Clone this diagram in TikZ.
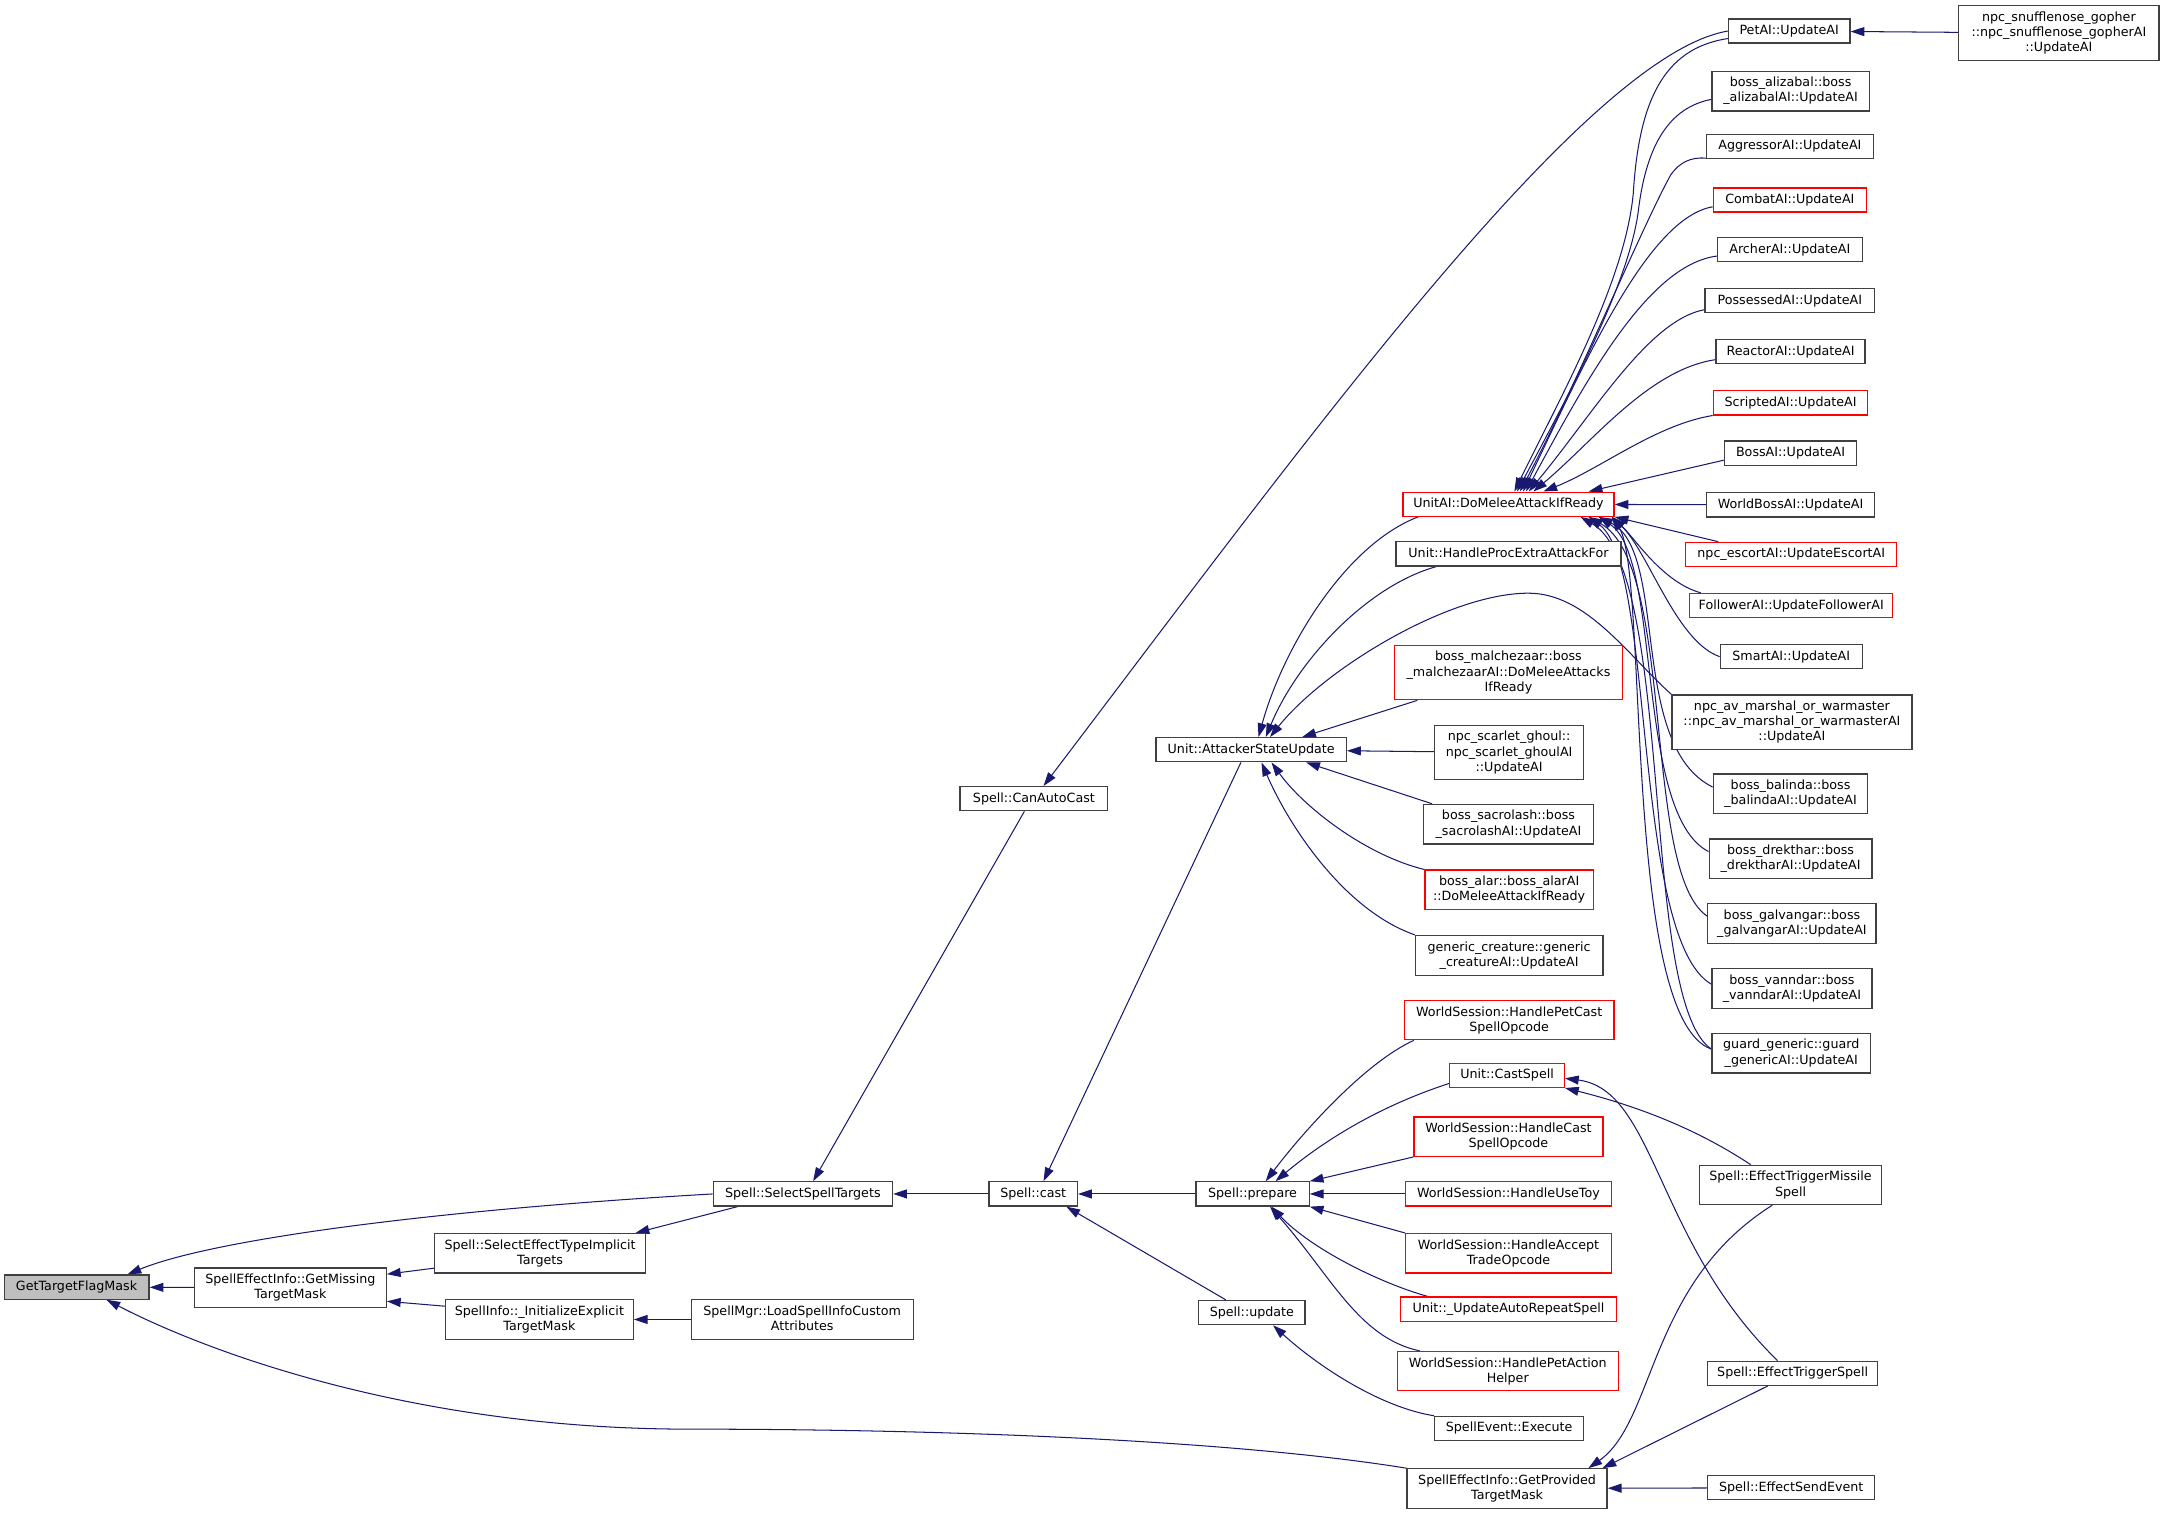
\documentclass[tikz,border=0pt]{standalone}
\usepackage{fontspec}
\setmainfont{DejaVu Sans}
\usepackage{xcolor}
\usetikzlibrary{arrows.meta}
\pgfdeclarelayer{background}
\pgfsetlayers{background,main}
\definecolor{edgeblue}{HTML}{191970}

\begin{document}
\begin{tikzpicture}[x=1pt,y=-1pt]
	\tikzset{fn/.style={draw=black!75, rectangle, fill=white, line width=0.9pt, inner xsep=2pt, inner ysep=4.3pt, minimum height=17.5pt, align=center, font=\fontsize{9.2}{11}\selectfont, execute at begin node={\vphantom{lg}}}}
	\tikzset{fnred/.style={fn, draw=red}}
	\tikzset{fnroot/.style={fn, fill=gray!50}}
	\tikzset{call/.style={draw=edgeblue, line width=0.75pt, {Triangle[length=10pt,width=6.5pt]}-}}
	\useasboundingbox (0,0) rectangle (1568,1098);
	% left part
	\node[fnroot, minimum width=105] at (55.5,933) (Root){GetTargetFlagMask};
	\node[fn, minimum width=139] at (210.5,933.5) (Missing){SpellEffectInfo::GetMissing\\TargetMask};
	\node[fn, minimum width=153] at (391.5,908.5) (Implicit){Spell::SelectEffectTypeImplicit\\Targets};
	\node[fn, minimum width=136] at (391,956.5) (Explicit){SpellInfo::\_InitializeExplicit\\TargetMask};
	\node[fn, minimum width=161] at (581.5,956.5) (LoadCustom){SpellMgr::LoadSpellInfoCustom\\Attributes};
	\node[fn, minimum width=130] at (582,865.5) (SelectTargets){Spell::SelectSpellTargets};
	\node[fn, minimum width=107] at (749.5,579) (CanAutoCast){Spell::CanAutoCast};
	\node[fn, minimum width=64] at (749,865.5) (Cast){Spell::cast};
	\node[fn, minimum width=82] at (908,865.5) (Prepare){Spell::prepare};
	\node[fn, minimum width=77] at (907.5,951.5) (Update){Spell::update};
	\node[fn, minimum width=138] at (907,543.5) (Attacker){Unit::AttackerStateUpdate};
	% middle column
	\node[fnred, minimum width=153] at (1093.5,365.5) (UnitAI){UnitAI::DoMeleeAttackIfReady};
	\node[fn, minimum width=163] at (1093.5,401.5) (ProcExtra){Unit::HandleProcExtraAttackFor};
	\node[fnred, minimum width=165] at (1093.5,487.5) (Malchezaar){boss\_malchezaar::boss\\\_malchezaarAI::DoMeleeAttacks\\IfReady};
	\node[fn, minimum width=108] at (1094,545.5) (ScarletGhoul){npc\_scarlet\_ghoul::\\npc\_scarlet\_ghoulAI\\::UpdateAI};
	\node[fn, minimum width=123] at (1093.5,597.5) (Sacrolash){boss\_sacrolash::boss\\\_sacrolashAI::UpdateAI};
	\node[fnred, minimum width=122] at (1094,645) (Alar){boss\_alar::boss\_alarAI\\::DoMeleeAttackIfReady};
	\node[fn, minimum width=136] at (1094,692.5) (Generic){generic\_creature::generic\\\_creatureAI::UpdateAI};
	\node[fnred, minimum width=152] at (1094,739.5) (PetCast){WorldSession::HandlePetCast\\SpellOpcode};
	\node[fnred, minimum width=83] at (1092.5,779.5) (CastSpell){Unit::CastSpell};
	\node[fnred, minimum width=137] at (1093.5,824) (HandleCast){WorldSession::HandleCast\\SpellOpcode};
	\node[fnred, minimum width=149] at (1093.5,865.5) (UseToy){WorldSession::HandleUseToy};
	\node[fnred, minimum width=149] at (1093.5,908.5) (AcceptTrade){WorldSession::HandleAccept\\TradeOpcode};
	\node[fnred, minimum width=157] at (1093.5,949) (AutoRepeat){Unit::\_UpdateAutoRepeatSpell};
	\node[fnred, minimum width=160] at (1093,994) (PetAction){WorldSession::HandlePetAction\\Helper};
	\node[fn, minimum width=108] at (1094,1035.5) (SpellEvent){SpellEvent::Execute};
	\node[fn, minimum width=145] at (1092.5,1079) (Provided){SpellEffectInfo::GetProvided\\TargetMask};
	% right column
	\node[fn, minimum width=88] at (1297,22.5) (PetAI){PetAI::UpdateAI};
	\node[fn, minimum width=145] at (1492.5,24) (Gopher){npc\_snufflenose\_gopher\\::npc\_snufflenose\_gopherAI\\::UpdateAI};
	\node[fn, minimum width=114] at (1298,66) (Alizabal){boss\_alizabal::boss\\\_alizabalAI::UpdateAI};
	\node[fn, minimum width=121] at (1297.5,106) (Aggressor){AggressorAI::UpdateAI};
	\node[fnred, minimum width=111] at (1297.5,145) (Combat){CombatAI::UpdateAI};
	\node[fn, minimum width=105] at (1297.5,181) (Archer){ArcherAI::UpdateAI};
	\node[fn, minimum width=123] at (1297.5,218) (Possessed){PossessedAI::UpdateAI};
	\node[fn, minimum width=108] at (1298,255) (Reactor){ReactorAI::UpdateAI};
	\node[fnred, minimum width=112] at (1298,292) (Scripted){ScriptedAI::UpdateAI};
	\node[fn, minimum width=96] at (1298,328.5) (BossAI){BossAI::UpdateAI};
	\node[fn, minimum width=122] at (1298,366) (WorldBoss){WorldBossAI::UpdateAI};
	\node[fnred, minimum width=153] at (1298.5,402) (Escort){npc\_escortAI::UpdateEscortAI};
	\node[fnred, minimum width=147] at (1298.5,439) (Follower){FollowerAI::UpdateFollowerAI};
	\node[fn, minimum width=103] at (1298.5,476) (Smart){SmartAI::UpdateAI};
	\node[fn, minimum width=174] at (1299,523.5) (Marshal){npc\_av\_marshal\_or\_warmaster\\::npc\_av\_marshal\_or\_warmasterAI\\::UpdateAI};
	\node[fn, minimum width=112] at (1298,575.5) (Balinda){boss\_balinda::boss\\\_balindaAI::UpdateAI};
	\node[fn, minimum width=118] at (1298,622.5) (Drekthar){boss\_drekthar::boss\\\_drektharAI::UpdateAI};
	\node[fn, minimum width=122] at (1299,669.5) (Galvangar){boss\_galvangar::boss\\\_galvangarAI::UpdateAI};
	\node[fn, minimum width=116] at (1299,716.5) (Vanndar){boss\_vanndar::boss\\\_vanndarAI::UpdateAI};
	\node[fn, minimum width=115] at (1298.5,763.5) (Guard){guard\_generic::guard\\\_genericAI::UpdateAI};
	\node[fn, minimum width=132] at (1298,859) (MissileSpell){Spell::EffectTriggerMissile\\Spell};
	\node[fn, minimum width=123] at (1299.5,995.5) (TriggerSpell){Spell::EffectTriggerSpell};
	\node[fn, minimum width=121] at (1298.5,1078.5) (SendEvent){Spell::EffectSendEvent};
	\begin{pgfonlayer}{background}
	% callers of GetTargetFlagMask and of the mask helpers
	\draw[call] (Root) -- (Missing);
	\draw[call] (Root.14) .. controls (150,900) and (300,878) .. (SelectTargets.west);
	\draw[call] (Root.-23) .. controls (150,980) and (300,1036) .. (500,1036) .. controls (700,1036) and (900,1045) .. (Provided.north west);
	\draw[call] (Missing.8) -- (Implicit.188);
	\draw[call] (Missing.-8) -- (Explicit.172);
	\draw[call] (Explicit) -- (LoadCustom);
	\draw[call] (Implicit.12) -- (SelectTargets.191);
	\draw[call] (SelectTargets) -- (Cast);
	\draw[call] (SelectTargets.51) -- (CanAutoCast.233);
	\draw[call] (CanAutoCast.53) .. controls (950,315) and (1150,40) .. (PetAI.west);
	% Spell::cast
	\draw[call] (Cast) -- (Prepare);
	\draw[call] (Cast.51) -- (Attacker.231);
	\draw[call] (Cast.-21) -- (Update.154);
	% Spell::prepare and Spell::update
	\draw[call] (Prepare.44) .. controls (945,820) and (990,770) .. (PetCast.192);
	\draw[call] (Prepare.29) .. controls (950,835) and (990,805) .. (CastSpell.188);
	\draw[call] (Prepare.north east) -- (HandleCast.south west);
	\draw[call] (Prepare) -- (UseToy);
	\draw[call] (Prepare.south east) -- (AcceptTrade.north west);
	\draw[call] (Prepare.-34) .. controls (950,905) and (1000,930) .. (AutoRepeat.171);
	\draw[call] (Prepare.-36) .. controls (965,925) and (985,970) .. (PetAction.167);
	\draw[call] (Update.-31) .. controls (955,990) and (1000,1020) .. (SpellEvent.north west);
	% Unit::AttackerStateUpdate
	\draw[call] (Attacker.60) .. controls (930,470) and (975,395) .. (UnitAI.188);
	\draw[call] (Attacker.41) .. controls (940,480) and (990,425) .. (ProcExtra.190);
	\draw[call] (Attacker.34) .. controls (960,485) and (1050,430) .. (1108,430) .. controls (1150,430) and (1180,475) .. (Marshal.north west);
	\draw[call] (Attacker.14) -- (Malchezaar.197);
	\draw[call] (Attacker) -- (ScarletGhoul);
	\draw[call] (Attacker.-13) -- (Sacrolash.165);
	\draw[call] (Attacker.-32) .. controls (945,585) and (990,620) .. (Alar.north west);
	\draw[call] (Attacker.-51) .. controls (935,600) and (975,660) .. (Generic.north west);
	% UnitAI::DoMeleeAttackIfReady, upper callers
	\draw[call] (UnitAI.65) .. controls (1130,290) and (1178,205) .. (1184,140) .. controls (1188,75) and (1205,35) .. (PetAI.187);
	\draw[call] (UnitAI.56) .. controls (1135,290) and (1182,205) .. (1188,150) .. controls (1194,105) and (1210,78) .. (Alizabal.186);
	\draw[call] (UnitAI.48) .. controls (1140,285) and (1190,165) .. (1211,127) .. controls (1218,117) and (1226,114) .. (Aggressor.188);
	\draw[call] (UnitAI.41) .. controls (1150,260) and (1195,158) .. (Combat.185);
	\draw[call] (UnitAI.36) .. controls (1150,275) and (1195,192) .. (Archer.185);
	\draw[call] (UnitAI.32) .. controls (1155,300) and (1195,232) .. (Possessed.186);
	\draw[call] (UnitAI.27) .. controls (1155,320) and (1195,268) .. (Reactor.186);
	\draw[call] (UnitAI.20) .. controls (1160,340) and (1200,308) .. (Scripted.south west);
	\draw[call] (UnitAI.9) -- (BossAI.186);
	\draw[call] (UnitAI) -- (WorldBoss);
	% UnitAI::DoMeleeAttackIfReady, lower callers
	\draw[call] (UnitAI.south east) -- (Escort.170);
	\draw[call] (UnitAI.-7) .. controls (1185,390) and (1205,422) .. (Follower.172);
	\draw[call] (UnitAI.-7) .. controls (1195,400) and (1215,465) .. (Smart.west);
	\draw[call] (UnitAI.-8) .. controls (1210,400) and (1180,540) .. (Balinda.175);
	\draw[call] (UnitAI.-8) .. controls (1205,405) and (1185,590) .. (Drekthar.175);
	\draw[call] (UnitAI.-9) .. controls (1215,410) and (1190,632) .. (Galvangar.175);
	\draw[call] (UnitAI.-9) .. controls (1200,410) and (1183,680) .. (Vanndar.177);
	\draw[call] (UnitAI.-10) .. controls (1215,415) and (1188,725) .. (Guard.177);
	\draw[call] (UnitAI.-7) .. controls (1195,415) and (1176,738) .. (Guard.177);
	% Unit::CastSpell and SpellEffectInfo::GetProvidedTargetMask
	\draw[call] (CastSpell.south east) .. controls (1200,805) and (1240,825) .. (MissileSpell.153);
	\draw[call] (CastSpell.-3) .. controls (1200,790) and (1200,900) .. (TriggerSpell.140);
	\draw[call] (Provided.14) .. controls (1200,1030) and (1195,930) .. (MissileSpell.228);
	\draw[call] (Provided.12) -- (TriggerSpell.207);
	\draw[call] (Provided) -- (SendEvent);
	\draw[call] (PetAI) -- (Gopher);
	\end{pgfonlayer}
\end{tikzpicture}
\end{document}
